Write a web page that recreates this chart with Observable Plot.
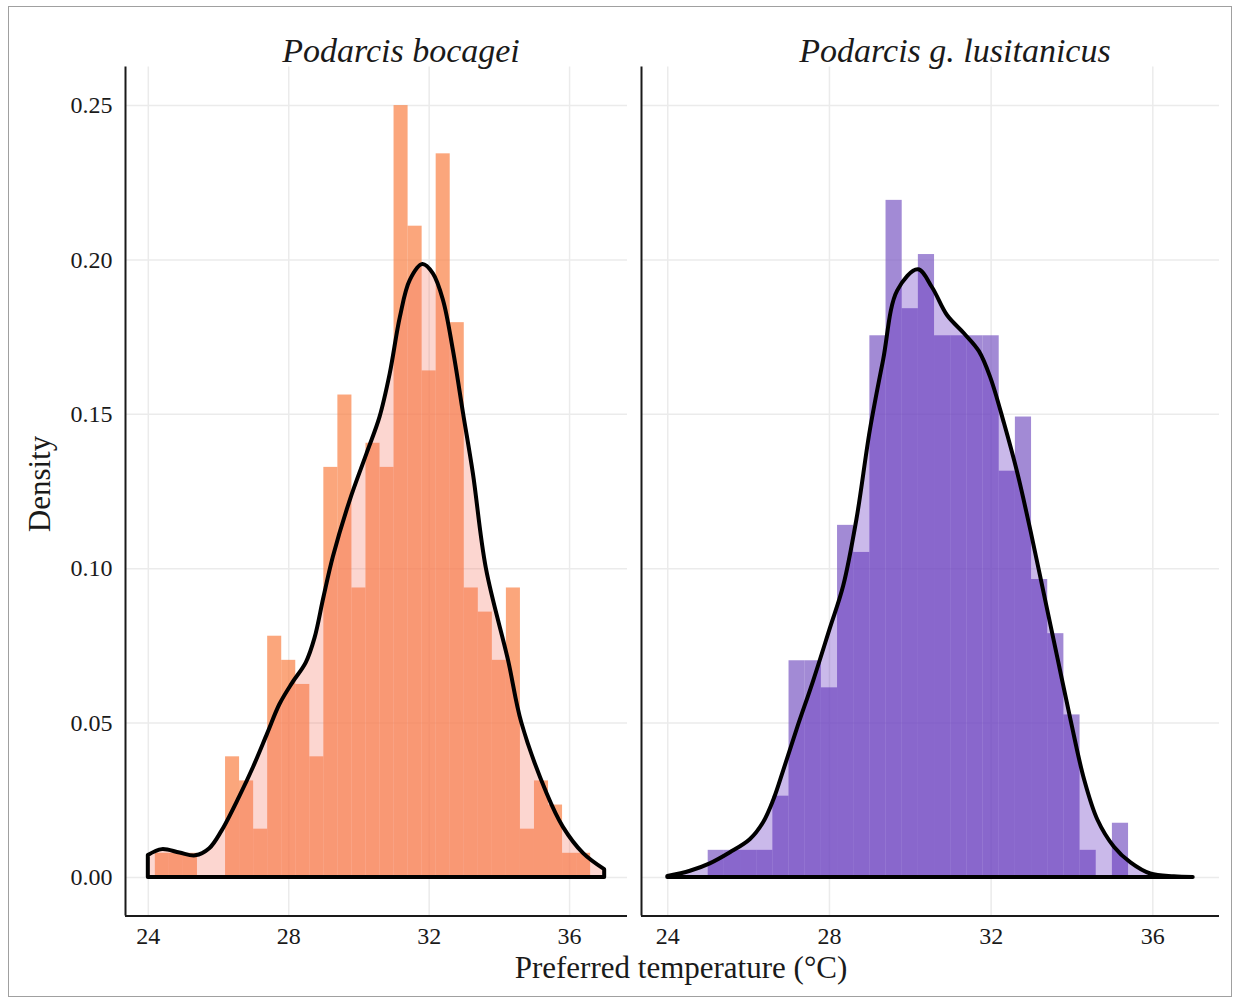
<!DOCTYPE html>
<html>
<head>
<meta charset="utf-8">
<script src="https://cdn.jsdelivr.net/npm/d3@7"></script>
<script src="https://cdn.jsdelivr.net/npm/@observablehq/plot@0.6"></script>
<style>
  html, body { margin: 0; padding: 0; background: #ffffff; }
  #figure { position: relative; width: 1240px; height: 999px; background: #ffffff; overflow: hidden; }
  #figure > svg, #figure > figure { position: absolute; top: 0; margin: 0; }
  #border { position: absolute; left: 8px; top: 6px; width: 1224px; height: 991px; border: 1px solid #a0a0a0; box-sizing: border-box; }
</style>
</head>
<body>
<div id="figure"><div id="border"></div></div>
<script>
// Species shown in the two panels
const species = ["Podarcis bocagei", "Podarcis g. lusitanicus"];

// Histogram bins (°C) and counts per bin
const binWidth = 0.4;
const bocageiBinStart = 24.2;
const bocageiCounts = [1, 1, 1, 0, 0, 5, 4, 2, 10, 9, 8, 5, 17, 20, 12, 18, 17, 32, 27, 21, 30, 23, 12, 11, 9, 12, 2, 4, 3, 1, 1, 0];
const bocageiN = 320;
const lusitanicusBinStart = 25.0;
const lusitanicusCounts = [1, 1, 1, 1, 3, 8, 8, 7, 13, 12, 20, 25, 21, 23, 20, 20, 20, 20, 15, 17, 11, 9, 6, 1, 0, 2];
const lusitanicusN = 285;

// Kernel density curves
const bocageiDensityTemp = [24.0, 24.4, 24.9, 25.35, 25.75, 26.1, 26.6, 27.0, 27.4, 27.75, 28.1, 28.5, 28.75, 29.0, 29.27, 29.75, 30.23, 30.6, 30.89, 31.18, 31.46, 31.82, 32.12, 32.41, 32.69, 32.98, 33.26, 33.63, 34.26, 34.64, 35.36, 35.82, 36.4, 37.0];
const bocageiDensity = [0.0071, 0.0090, 0.0079, 0.0070, 0.0093, 0.0150, 0.0260, 0.0357, 0.0465, 0.0560, 0.0627, 0.0695, 0.0775, 0.0905, 0.1037, 0.1220, 0.1372, 0.1490, 0.1630, 0.1814, 0.1933, 0.1985, 0.1955, 0.1868, 0.1707, 0.1502, 0.1307, 0.1000, 0.0703, 0.0500, 0.0271, 0.0163, 0.0077, 0.0025];
const lusitanicusDensityTemp = [24.0, 24.56, 25.05, 25.55, 26.04, 26.37, 26.62, 26.87, 27.2, 27.61, 28.02, 28.35, 28.68, 29.01, 29.34, 29.69, 30.2, 30.55, 30.92, 31.34, 31.71, 32.0, 32.33, 32.66, 32.99, 33.32, 33.65, 33.98, 34.31, 34.64, 35.05, 35.46, 35.95, 36.53, 37.0];
const lusitanicusDensity = [0.0003, 0.0020, 0.0044, 0.0080, 0.0122, 0.0177, 0.0249, 0.0346, 0.0479, 0.0636, 0.0805, 0.0942, 0.1159, 0.1446, 0.1675, 0.1900, 0.1968, 0.1910, 0.1820, 0.1761, 0.1703, 0.1615, 0.1470, 0.1309, 0.1119, 0.0915, 0.0711, 0.0507, 0.0317, 0.0186, 0.0098, 0.0047, 0.0011, 0.0002, 0.0];

// Axes
const xTicks = [24, 28, 32, 36];
const yTicks = [0, 0.05, 0.10, 0.15, 0.20, 0.25];
const xDomain = [23.35, 37.65];
const yDomain = [-0.0125, 0.2625];

// Colours: histogram fill and density fill for each species
const bocageiHistColor = "#f98044";
const bocageiDensColor = "#f57864";
const lusitanicusHistColor = "#7b58c3";
const lusitanicusDensColor = "#4e16b9";

const serif = "'Liberation Serif', 'Times New Roman', serif";

function binsOf(start, counts, n) {
  return counts.map((c, i) => ({
    x1: start + i * binWidth,
    x2: start + (i + 1) * binWidth,
    density: c / (n * binWidth)
  }));
}
function curveOf(temps, dens) {
  return temps.map((t, i) => ({temp: t, density: dens[i]}));
}

function panel({width, marginLeft, marginRight, bins, curve, histColor, densColor, showY}) {
  return Plot.plot({
    width,
    height: 960,
    marginLeft,
    marginRight,
    marginTop: 66.5,
    marginBottom: 44.5,
    x: {domain: xDomain, axis: null},
    y: {domain: yDomain, axis: null},
    style: {fontFamily: serif, fontSize: "24px", color: "#1a1a1a", background: "transparent", overflow: "visible"},
    marks: [
      Plot.gridX(xTicks, {stroke: "#ebebeb", strokeOpacity: 1, strokeWidth: 1.5}),
      Plot.gridY(yTicks, {stroke: "#ebebeb", strokeOpacity: 1, strokeWidth: 1.5}),
      Plot.rect(bins, {x1: "x1", x2: "x2", y1: () => 0, y2: "density", fill: histColor, fillOpacity: 0.7}),
      Plot.areaY(curve, {x: "temp", y: "density", fill: densColor, fillOpacity: 0.3, stroke: "black", strokeWidth: 4, strokeLinejoin: "round", curve: "catmull-rom"}),
      Plot.ruleX([xDomain[0]], {stroke: "#1a1a1a", strokeWidth: 2}),
      Plot.ruleY([yDomain[0]], {stroke: "#1a1a1a", strokeWidth: 2}),
      Plot.axisX(xTicks, {tickSize: 0, tickPadding: 11, label: null, fontSize: 24, fill: "#1a1a1a"}),
      showY ? Plot.axisY(yTicks, {tickSize: 0, tickPadding: 13, label: null, fontSize: 24, fill: "#1a1a1a", tickFormat: d3.format(".2f")}) : null
    ]
  });
}

const fig = document.getElementById("figure");

const left = panel({
  width: 634, marginLeft: 125, marginRight: 7,
  bins: binsOf(bocageiBinStart, bocageiCounts, bocageiN),
  curve: curveOf(bocageiDensityTemp, bocageiDensity),
  histColor: bocageiHistColor, densColor: bocageiDensColor, showY: true
});
left.style.left = "0px";
fig.appendChild(left);

const right = panel({
  width: 606, marginLeft: 7, marginRight: 21,
  bins: binsOf(lusitanicusBinStart, lusitanicusCounts, lusitanicusN),
  curve: curveOf(lusitanicusDensityTemp, lusitanicusDensity),
  histColor: lusitanicusHistColor, densColor: lusitanicusDensColor, showY: false
});
right.style.left = "634px";
fig.appendChild(right);

// Panel titles and axis titles
const overlay = d3.select(fig).append("svg")
  .attr("width", 1240).attr("height", 999)
  .style("left", "0px").style("pointer-events", "none")
  .attr("font-family", serif).attr("fill", "#1a1a1a");

overlay.selectAll("text.strip")
  .data([{label: species[0], x: 401}, {label: species[1], x: 955}])
  .join("text")
  .attr("class", "strip")
  .attr("x", d => d.x).attr("y", 62)
  .attr("text-anchor", "middle")
  .attr("font-style", "italic")
  .attr("font-size", 34)
  .text(d => d.label);

overlay.append("text")
  .attr("x", 681).attr("y", 978)
  .attr("text-anchor", "middle")
  .attr("font-size", 31)
  .text("Preferred temperature (°C)");

overlay.append("text")
  .attr("transform", "translate(50,484) rotate(-90)")
  .attr("text-anchor", "middle")
  .attr("font-size", 31)
  .text("Density");
</script>
</body>
</html>
